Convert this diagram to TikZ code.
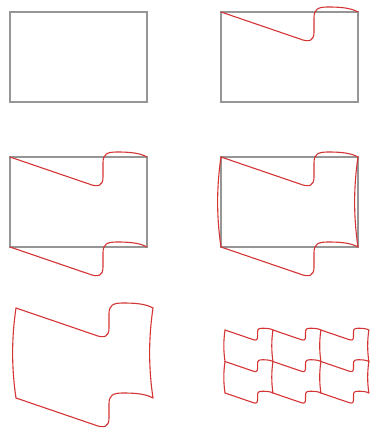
\documentclass[tikz,border=0pt]{standalone}
\definecolor{rc}{RGB}{212,52,52}
\definecolor{gc}{RGB}{150,150,150}
\tikzset{
  redline/.style={draw=rc, line width=1.1pt, line join=round, line cap=round},
  grayline/.style={draw=gc, line width=1.3pt},
  topc/.pic={\path[redline] (0,0) -- (79,27) .. controls (88,30.5) and (93,29) .. (93,20) -- (93,6) .. controls (93,-3) and (97,-5) .. (107,-5) .. controls (120,-5) and (130,-4) .. (137,0);},
  leftc/.pic={\path[redline] (0,0) .. controls (-4.5,30) and (-4.5,60) .. (0,90);}
}
\begin{document}
\begin{tikzpicture}[x=1pt,y=-1pt]
\useasboundingbox (0,0) rectangle (376,430);
% panel 1
\draw[grayline] (10,12) rectangle (147,102);
% panel 2
\draw[grayline] (221,12) rectangle (358,102);
\pic at (221,12) {topc};
% panel 3
\draw[grayline] (10,157) rectangle (147,247);
\pic at (10,157) {topc};
\pic at (10,247) {topc};
% panel 4
\draw[grayline] (221,157) rectangle (358,247);
\pic at (221,157) {topc};
\pic at (221,247) {topc};
\pic at (221,157) {leftc};
\pic at (358,157) {leftc};
% panel 5
\pic at (16,308) {topc};
\pic at (16,398) {topc};
\pic at (16,308) {leftc};
\pic at (153,308) {leftc};
% panel 6 tiling
\foreach \i in {0,1,2}{
  \foreach \j in {0,1,2}{
    \pic[scale=0.35] at (225+\i*47.95, 330+\j*31.5) {topc};
  }
}
\foreach \i in {0,1,2,3}{
  \foreach \j in {0,1}{
    \pic[scale=0.35] at (225+\i*47.95, 330+\j*31.5) {leftc};
  }
}
\end{tikzpicture}
\end{document}
